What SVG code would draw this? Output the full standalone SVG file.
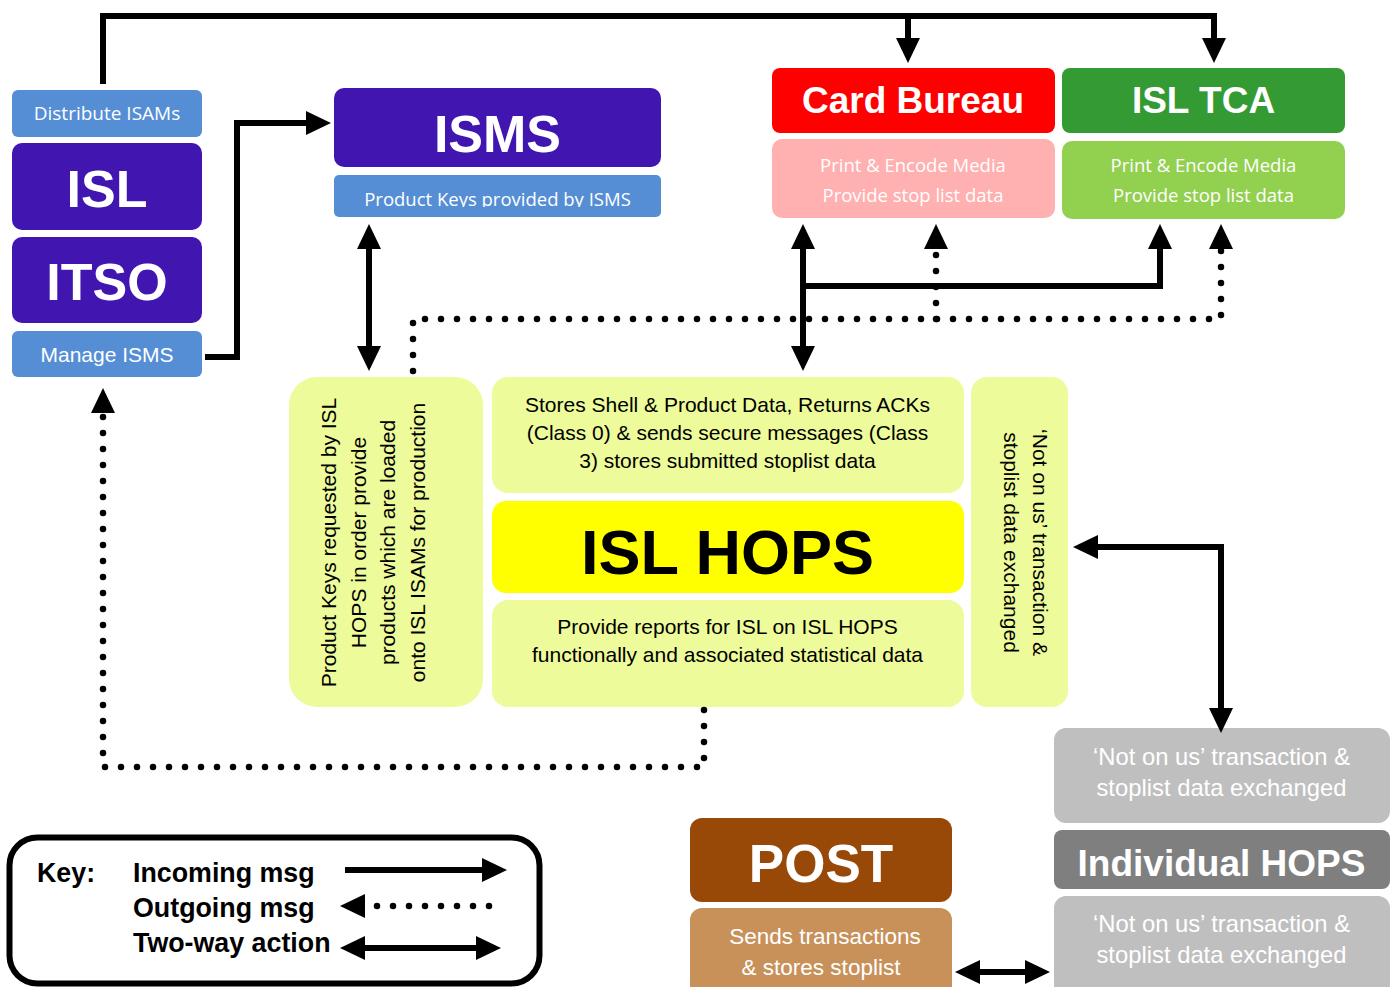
<svg xmlns="http://www.w3.org/2000/svg" width="1397" height="987" viewBox="0 0 1397 987">
<style>
text{font-family:"Liberation Sans",Arial,sans-serif}
.cal{font-family:"Open Sans","Liberation Sans",sans-serif;fill:#fff}
.title{font-weight:bold;fill:#fff;text-anchor:middle}
.mid{text-anchor:middle}
.w{fill:#fff}
.purple{fill:#4115B0}
.blue{fill:#558ED5}
.panel{fill:#EDFB9A}
.grey{fill:#BFBFBF}
.solid{fill:none;stroke:#000;stroke-width:6;stroke-linejoin:miter}
.dot{fill:none;stroke:#000;stroke-width:6.5;stroke-linecap:round;stroke-dasharray:0 16}
.key{font-weight:bold;font-size:26.8px}
</style>
<defs>
<marker id="ah" markerUnits="userSpaceOnUse" markerWidth="26" markerHeight="24" viewBox="0 0 26 24" refX="1" refY="12" orient="auto-start-reverse"><path d="M0,0 L25,12 L0,24 Z" fill="#000"/></marker>
<clipPath id="pkclip"><rect x="334" y="175" width="327" height="32"/></clipPath>
</defs>
<rect width="1397" height="987" fill="#fff"/>

<g id="isl-itso">
<rect x="12" y="90" width="190" height="47" rx="6" class="blue"/>
<text x="107" y="120" class="cal mid" font-size="19">Distribute ISAMs</text>
<rect x="12" y="143" width="190" height="87" rx="10" class="purple"/>
<text x="107" y="207" class="title" font-size="52">ISL</text>
<rect x="12" y="237" width="190" height="86" rx="10" class="purple"/>
<text x="107" y="300" class="title" font-size="52">ITSO</text>
<rect x="12" y="331" width="190" height="46" rx="6" class="blue"/>
<text x="107" y="362" class="mid w" font-size="21">Manage ISMS</text>
</g>

<g id="isms">
<rect x="334" y="88" width="327" height="79" rx="10" class="purple"/>
<text x="497.5" y="152" class="title" font-size="52">ISMS</text>
<rect x="334" y="175" width="327" height="42" rx="5" class="blue"/>
<text x="497.5" y="206" class="cal mid" font-size="18.5" clip-path="url(#pkclip)">Product Keys provided by ISMS</text>
</g>

<g id="card-bureau">
<rect x="772" y="68" width="283" height="65" rx="8" fill="#FF0000"/>
<text x="913" y="113" class="title" font-size="37">Card Bureau</text>
<rect x="772" y="139" width="283" height="79" rx="10" fill="#FFB0B0"/>
<text x="913" y="172" class="cal mid" font-size="18.5">Print &amp; Encode Media</text>
<text x="913" y="202" class="cal mid" font-size="18.5">Provide stop list data</text>
</g>

<g id="isl-tca">
<rect x="1062" y="68" width="283" height="65" rx="8" fill="#349A34"/>
<text x="1203.5" y="113" class="title" font-size="37">ISL TCA</text>
<rect x="1062" y="141" width="283" height="78" rx="10" fill="#92D050"/>
<text x="1203.5" y="172" class="cal mid" font-size="18.5">Print &amp; Encode Media</text>
<text x="1203.5" y="202" class="cal mid" font-size="18.5">Provide stop list data</text>
</g>

<g id="isl-hops">
<rect x="289" y="377" width="194" height="330" rx="28" class="panel"/>
<text transform="translate(336,542.5) rotate(-90)" class="mid" font-size="21">Product Keys requested by ISL</text>
<text transform="translate(366,542.5) rotate(-90)" class="mid" font-size="21">HOPS in order provide</text>
<text transform="translate(395,542.5) rotate(-90)" class="mid" font-size="21">products which are loaded</text>
<text transform="translate(425,542.5) rotate(-90)" class="mid" font-size="21">onto ISL ISAMs for production</text>
<rect x="492" y="377" width="472" height="116" rx="16" class="panel"/>
<text x="727.5" y="412" class="mid" font-size="21">Stores Shell &amp; Product Data, Returns ACKs</text>
<text x="727.5" y="440" class="mid" font-size="21">(Class 0) &amp; sends secure messages (Class</text>
<text x="727.5" y="468" class="mid" font-size="21">3) stores submitted stoplist data</text>
<rect x="492" y="501" width="472" height="92" rx="14" fill="#FFFF00"/>
<text x="727.5" y="574" class="mid" font-weight="bold" font-size="63">ISL HOPS</text>
<rect x="492" y="600" width="472" height="107" rx="16" class="panel"/>
<text x="727.5" y="634" class="mid" font-size="21">Provide reports for ISL on ISL HOPS</text>
<text x="727.5" y="662" class="mid" font-size="21">functionally and associated statistical data</text>
<rect x="971" y="377" width="97" height="330" rx="16" class="panel"/>
<text transform="translate(1032.5,542.5) rotate(90)" class="mid" font-size="21">‘Not on us’ transaction &amp;</text>
<text transform="translate(1004,542.5) rotate(90)" class="mid" font-size="21">stoplist data exchanged</text>
</g>

<g id="individual-hops">
<rect x="1054" y="728" width="336" height="95" rx="12" class="grey"/>
<text x="1221.5" y="765" class="mid w" font-size="23.8">‘Not on us’ transaction &amp;</text>
<text x="1221.5" y="796" class="mid w" font-size="23.8">stoplist data exchanged</text>
<rect x="1054" y="830" width="336" height="59" rx="8" fill="#7F7F7F"/>
<text x="1221.5" y="876" class="title" font-size="37">Individual HOPS</text>
<rect x="1054" y="896" width="336" height="100" rx="12" class="grey"/>
<text x="1221.5" y="932" class="mid w" font-size="23.8">‘Not on us’ transaction &amp;</text>
<text x="1221.5" y="963" class="mid w" font-size="23.8">stoplist data exchanged</text>
</g>

<g id="post">
<rect x="690" y="818" width="262" height="84" rx="12" fill="#984807"/>
<text x="821" y="882" class="title" font-size="53">POST</text>
<rect x="690" y="908" width="262" height="90" rx="12" fill="#C8915A"/>
<text x="825" y="944" class="mid w" font-size="22.5">Sends transactions</text>
<text x="821" y="975" class="mid w" font-size="22.5">&amp; stores stoplist</text>
</g>

<g id="key">
<rect x="9.5" y="837.5" width="530" height="146" rx="28" fill="#fff" stroke="#000" stroke-width="6"/>
<text x="37" y="882" class="key">Key:</text>
<text x="133" y="882" class="key">Incoming msg</text>
<text x="133" y="917" class="key">Outgoing msg</text>
<text x="133" y="952" class="key">Two-way action</text>
<path class="solid" d="M345,870 H483" stroke-width="7" marker-end="url(#ah)"/>
<path class="dot" d="M489,906 H364" stroke-dasharray="0 14.3" marker-end="url(#ah)"/>
<path class="solid" d="M364,948 H477" marker-start="url(#ah)" marker-end="url(#ah)"/>
</g>

<g id="connectors">
<path class="solid" d="M103,84 V16 H1214 V39" marker-end="url(#ah)"/>
<path class="solid" d="M908,16 V39" marker-end="url(#ah)"/>
<path class="solid" d="M205,357 H237 V123 H307" stroke-width="7" marker-end="url(#ah)"/>
<path class="solid" d="M369,248 V347" marker-start="url(#ah)" marker-end="url(#ah)"/>
<path class="solid" d="M803,248 V347" marker-start="url(#ah)" marker-end="url(#ah)"/>
<path class="solid" d="M803,286 H1160 V248" marker-end="url(#ah)"/>
<path class="dot" d="M413,371 V319 H1221 V248" marker-end="url(#ah)"/>
<path class="dot" d="M936,319 V248" marker-end="url(#ah)"/>
<path class="dot" d="M704,710 V767 H103 V412" marker-end="url(#ah)"/>
<path class="solid" d="M1097,547 H1221 V709" marker-start="url(#ah)" marker-end="url(#ah)"/>
<path class="solid" d="M979,972 H1026" marker-start="url(#ah)" marker-end="url(#ah)"/>
</g>
</svg>
